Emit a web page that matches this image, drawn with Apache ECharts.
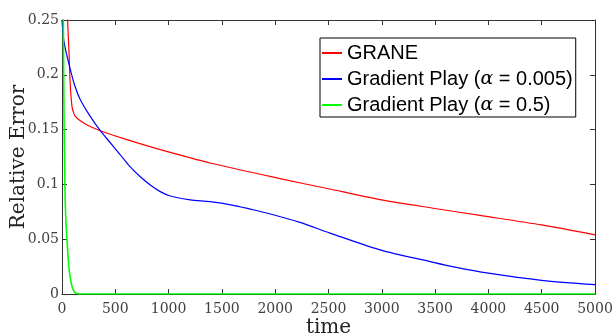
<!DOCTYPE html>
<html>
<head>
<meta charset="utf-8">
<script src="https://cdn.jsdelivr.net/npm/echarts@6/dist/echarts.min.js"></script>
<style>
html,body{margin:0;padding:0;background:#fff;}
#chart{width:613px;height:336px;}
</style>
</head>
<body>
<div id="chart"></div>
<script>
// ---- data ----
const graneT = [0, 40, 53, 66, 78, 94, 110, 125, 171, 250, 359, 609, 922, 1390, 2045, 2500, 2983, 3500, 3921, 4500, 5000];
const graneV = [1.0, 0.35, 0.25, 0.22, 0.19, 0.171, 0.165, 0.162, 0.158, 0.1535, 0.149, 0.1408, 0.1317, 0.1195, 0.1053, 0.096, 0.0861, 0.078, 0.0717, 0.063, 0.054];

const gp005T = [0, 15, 40, 78, 120, 171, 265, 359, 453, 547, 640, 734, 828, 922, 1015, 1203, 1390, 1607, 1764, 1920, 2233, 2514, 2983, 3452, 3687, 4000, 4500, 5000];
const gp005V = [0.25, 0.2326, 0.22, 0.205, 0.19, 0.1775, 0.162, 0.149, 0.138, 0.127, 0.116, 0.107, 0.0995, 0.0934, 0.0894, 0.0858, 0.0842, 0.0809, 0.0775, 0.0739, 0.0653, 0.0556, 0.0403, 0.0296, 0.0245, 0.019, 0.0125, 0.0085];

const gp05T = [0, 12, 20, 30, 40, 47, 59, 70, 81, 95, 106, 120, 140, 180, 300, 1000, 2000, 3000, 4000, 5000];
const gp05V = [0.4, 0.25, 0.15, 0.085, 0.06, 0.049, 0.031, 0.02, 0.0128, 0.0065, 0.0037, 0.0015, 0.0005, 0, 0, 0, 0, 0, 0, 0];

const xTicks = [0, 500, 1000, 1500, 2000, 2500, 3000, 3500, 4000, 4500, 5000];
const yTicks = [0, 0.05, 0.1, 0.15, 0.2, 0.25];

const seriesNames = ['GRANE', 'Gradient Play (\u03b1 = 0.005)', 'Gradient Play (\u03b1 = 0.5)'];

function pairs(t, v) { return t.map((x, i) => [x, v[i]]); }

const axisColor = '#333';
const labelColor = '#404040';
const serif = 'DejaVu Serif';

const chart = echarts.init(document.getElementById('chart'), null, {renderer: 'canvas'});

const baseX = {
  type: 'value', min: xTicks[0], max: xTicks[xTicks.length - 1], interval: 500,
  axisLine: {show: true, onZero: false, lineStyle: {color: axisColor, width: 1}},
  axisTick: {show: true, inside: true, length: 5, lineStyle: {color: axisColor}},
  splitLine: {show: false}
};
const baseY = {
  type: 'value', min: yTicks[0], max: yTicks[yTicks.length - 1], interval: 0.05,
  axisLine: {show: true, onZero: false, lineStyle: {color: axisColor, width: 1}},
  axisTick: {show: true, inside: true, length: 5, lineStyle: {color: axisColor}},
  splitLine: {show: false}
};

chart.setOption({
  animation: false,
  backgroundColor: '#fff',
  grid: {left: 62, right: 18, top: 20, bottom: 42, containLabel: false, outerBoundsMode: 'none'},
  legend: {
    left: 320, top: 38,
    orient: 'vertical',
    backgroundColor: '#fff',
    borderColor: '#000', borderWidth: 1,
    padding: [4, 3, 1, 1],
    itemGap: 4,
    itemWidth: 20, itemHeight: 2,
    data: seriesNames,
    formatter: function (name) {
      if (name.indexOf('\u03b1') < 0) return '{a|' + name + '}';
      const parts = name.split('\u03b1');
      return '{a|' + parts[0] + '}{g|\u03b1}{a|' + parts[1] + '}';
    },
    textStyle: {
      color: '#000', fontFamily: 'Liberation Sans', fontSize: 20, lineHeight: 22,
      rich: {
        a: {color: '#000', fontFamily: 'Liberation Sans', fontSize: 20, lineHeight: 22},
        g: {color: '#000', fontFamily: serif, fontStyle: 'italic', fontSize: 19, lineHeight: 22}
      }
    }
  },
  xAxis: [
    Object.assign({}, baseX, {
      position: 'bottom',
      name: 'time', nameLocation: 'middle', nameGap: 24, nameMoveOverlap: false,
      nameTextStyle: {fontFamily: serif, fontSize: 20, color: '#222', verticalAlign: 'top'},
      axisLabel: {show: true, margin: 8, fontFamily: serif, fontSize: 14, color: labelColor,
        formatter: v => String(v)}
    }),
    Object.assign({}, baseX, {position: 'top', axisLabel: {show: false}})
  ],
  yAxis: [
    Object.assign({}, baseY, {
      position: 'left',
      name: 'Relative Error', nameLocation: 'middle', nameGap: 33, nameMoveOverlap: false,
      nameTextStyle: {fontFamily: serif, fontSize: 20, color: '#222'},
      axisLabel: {show: true, margin: 3, fontFamily: serif, fontSize: 14, color: labelColor,
        formatter: v => String(Math.round(v * 100) / 100)}
    }),
    Object.assign({}, baseY, {position: 'right', axisLabel: {show: false}})
  ],
  series: [
    {name: seriesNames[0], type: 'line', data: pairs(graneT, graneV), showSymbol: false, symbol: 'none',
      smooth: 0.25, lineStyle: {color: '#ff0000', width: 1.2}, itemStyle: {color: '#ff0000'}, clip: true, z: 3},
    {name: seriesNames[1], type: 'line', data: pairs(gp005T, gp005V), showSymbol: false, symbol: 'none',
      smooth: 0.3, lineStyle: {color: '#0000ff', width: 1.2}, itemStyle: {color: '#0000ff'}, clip: true, z: 4},
    {name: seriesNames[2], type: 'line', data: pairs(gp05T, gp05V), showSymbol: false, symbol: 'none',
      smooth: 0.2, lineStyle: {color: '#00ff00', width: 1.6}, itemStyle: {color: '#00ff00'}, clip: true, z: 5}
  ]
});
</script>
</body>
</html>
